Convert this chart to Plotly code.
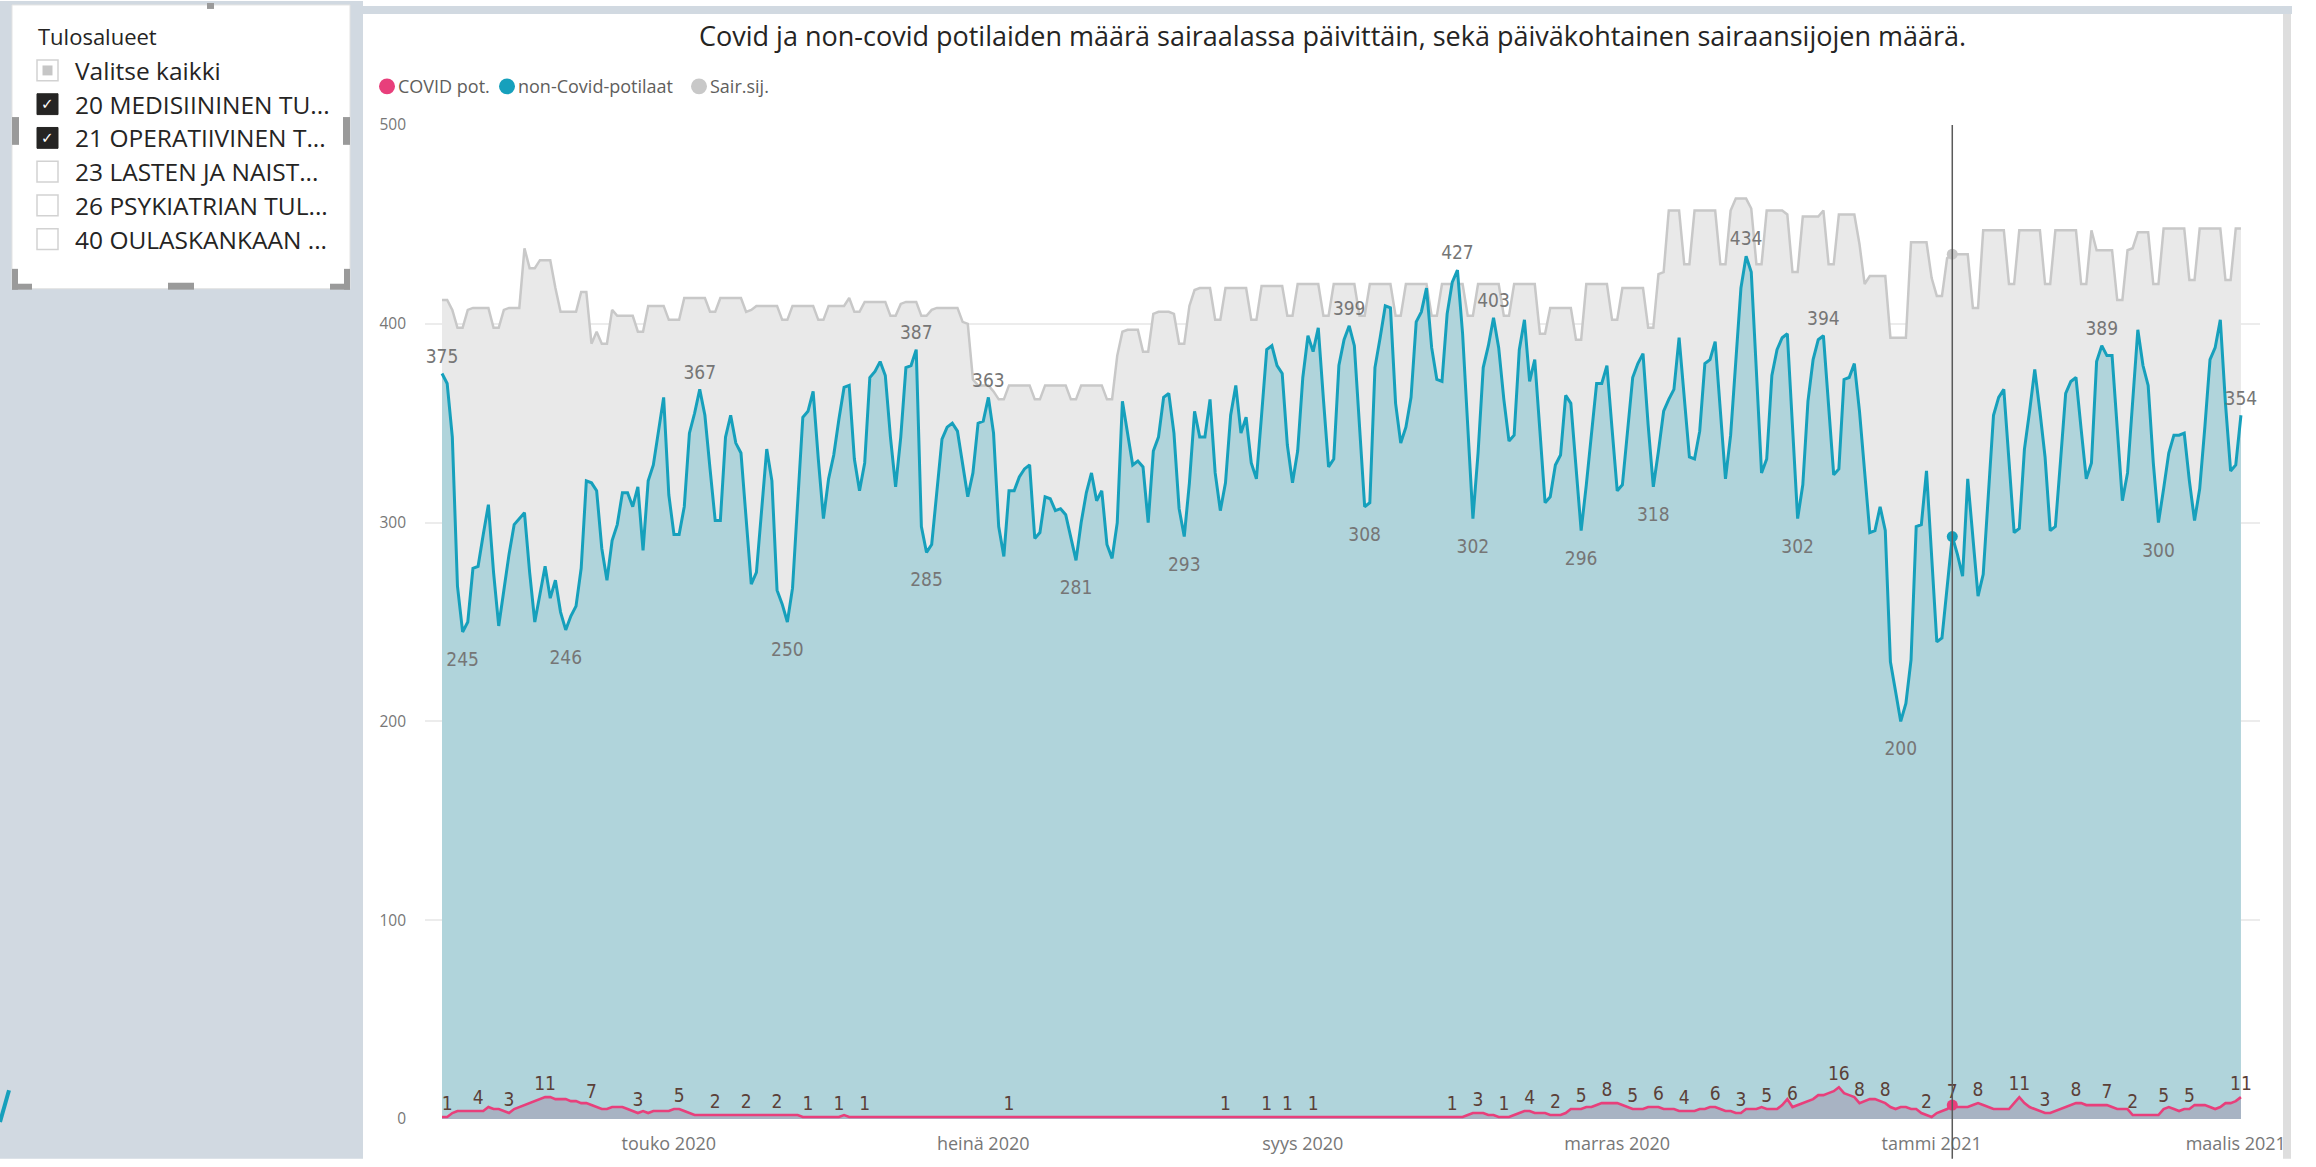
import pandas as pd
import plotly.graph_objects as go

# ---------------- data ----------------
START_DATE = "2020-03-18"

non_covid = [
    375, 370, 343, 268, 245, 250, 277, 278, 294, 309,
    275, 248, 266, 284, 299, 302, 305, 275, 250, 264,
    278, 262, 271, 255, 246, 253, 258, 277, 321, 320,
    316, 287, 271, 291, 299, 315, 315, 308, 318, 286,
    321, 329, 346, 363, 314, 294, 294, 308, 345, 355,
    367, 354, 327, 301, 301, 343, 354, 340, 335, 302,
    269, 275, 308, 337, 321, 266, 259, 250, 267, 312,
    353, 356, 366, 332, 302, 322, 334, 352, 368, 369,
    332, 316, 330, 373, 376, 381, 374, 343, 318, 343,
    378, 379, 387, 298, 285, 289, 316, 342, 348, 350,
    346, 330, 313, 325, 350, 351, 363, 345, 298, 283,
    316, 316, 323, 327, 329, 292, 295, 313, 312, 306,
    307, 304, 292, 281, 300, 315, 325, 311, 316, 289,
    282, 300, 361, 346, 329, 331, 328, 300, 336, 343,
    363, 365, 345, 307, 293, 320, 356, 343, 343, 362,
    325, 306, 320, 354, 369, 345, 353, 330, 322, 354,
    387, 389, 379, 375, 339, 320, 336, 373, 394, 386,
    398, 362, 328, 332, 379, 392, 399, 389, 347, 308,
    310, 378, 393, 409, 408, 360, 340, 348, 363, 401,
    406, 418, 388, 372, 371, 405, 421, 427, 395, 347,
    302, 335, 378, 389, 403, 388, 362, 341, 344, 387,
    402, 371, 382, 346, 310, 313, 329, 334, 364, 360,
    328, 296, 319, 344, 370, 370, 379, 347, 316, 319,
    346, 373, 380, 385, 349, 318, 336, 356, 362, 367,
    393, 362, 333, 332, 346, 380, 382, 391, 358, 322,
    344, 379, 418, 434, 426, 376, 325, 332, 374, 387,
    393, 395, 347, 302, 319, 361, 382, 392, 394, 360,
    324, 327, 372, 373, 380, 356, 325, 295, 296, 308,
    296, 230, 215, 200, 209, 231, 298, 299, 326, 284,
    240, 242, 268, 293, 284, 273, 322, 293, 263, 274,
    313, 354, 363, 367, 331, 295, 297, 337, 356, 377,
    356, 333, 296, 298, 331, 365, 371, 373, 347, 322,
    330, 381, 389, 384, 384, 345, 311, 325, 362, 397,
    379, 369, 330, 300, 317, 335, 344, 344, 345, 321,
    301, 317, 348, 382, 388, 402, 360, 326, 329, 354,
]

beds = [
    412, 412, 407, 398, 398, 407, 408, 408, 408, 408,
    398, 398, 407, 408, 408, 408, 438, 428, 428, 432,
    432, 432, 418, 406, 406, 406, 406, 416, 416, 390,
    396, 390, 390, 407, 404, 404, 404, 404, 396, 396,
    409, 409, 409, 409, 402, 402, 402, 413, 413, 413,
    413, 413, 406, 406, 413, 413, 413, 413, 413, 406,
    407, 409, 409, 409, 409, 409, 402, 402, 409, 409,
    409, 409, 409, 402, 402, 409, 409, 409, 409, 413,
    406, 406, 411, 411, 411, 411, 411, 404, 404, 410,
    411, 411, 411, 404, 404, 407, 408, 408, 408, 408,
    408, 401, 400, 372, 369, 369, 369, 366, 362, 362,
    369, 369, 369, 369, 369, 362, 362, 369, 369, 369,
    369, 369, 362, 362, 369, 369, 369, 369, 369, 362,
    362, 384, 396, 397, 397, 397, 386, 386, 405, 406,
    406, 406, 405, 390, 390, 409, 417, 418, 418, 418,
    402, 402, 418, 418, 418, 418, 418, 402, 402, 419,
    419, 419, 419, 419, 404, 404, 420, 420, 420, 420,
    420, 404, 404, 420, 420, 420, 420, 420, 404, 404,
    420, 420, 420, 420, 420, 404, 404, 420, 420, 420,
    420, 420, 404, 404, 420, 420, 420, 420, 420, 404,
    404, 420, 420, 420, 420, 420, 404, 404, 420, 420,
    420, 420, 420, 395, 395, 408, 408, 408, 408, 408,
    392, 392, 420, 420, 420, 420, 420, 402, 402, 418,
    418, 418, 418, 418, 398, 398, 425, 426, 457, 457,
    457, 430, 430, 457, 457, 457, 457, 457, 430, 430,
    457, 463, 463, 463, 458, 430, 430, 457, 457, 457,
    457, 455, 426, 426, 454, 454, 454, 454, 457, 430,
    430, 455, 455, 455, 455, 440, 420, 424, 424, 424,
    424, 393, 393, 393, 393, 441, 441, 441, 441, 423,
    414, 414, 433, 435, 435, 435, 435, 408, 408, 447,
    447, 447, 447, 447, 420, 420, 447, 447, 447, 447,
    447, 420, 420, 447, 447, 447, 447, 447, 420, 420,
    447, 437, 437, 437, 437, 412, 412, 437, 438, 446,
    446, 446, 420, 420, 448, 448, 448, 448, 448, 422,
    422, 448, 448, 448, 448, 448, 422, 422, 448, 448,
]

covid = (
    [1, 1, 3, 4, 4, 4, 4, 4, 4, 6,
     5, 5, 4, 3, 5, 6, 7, 8, 9, 10,
     11, 11, 10, 10, 10, 9, 9, 8, 8, 7,
     6, 5, 5, 6, 6, 6, 5, 4, 3, 4,
     3, 4, 4, 4, 4, 5, 5, 4, 3, 2,
     2, 2, 2, 2, 2, 2, 2, 2, 2, 2,
     2, 2, 2, 2, 2, 2, 2, 2, 2, 2,
     1, 1, 1, 1, 1, 1, 1, 1, 2, 1]
    + [1] * 116
    + [1, 1, 1, 2, 3, 3, 3, 2, 2, 1,
       1, 1, 2, 3, 4, 4, 3, 3, 3, 2,
       2, 2, 3, 5, 5, 5, 6, 6, 7, 8,
       8, 8, 8, 7, 6, 5, 5, 5, 6, 6,
       6, 5, 5, 5, 4, 4, 4, 4, 5, 5,
       6, 6, 5, 4, 4, 3, 3, 5, 5, 5,
       6, 5, 5, 5, 7, 10, 6, 7, 8, 9,
       10, 12, 12, 13, 14, 16, 13, 12, 11, 8,
       9, 10, 10, 9, 8, 6, 5, 6, 6, 5,
       5, 3, 2, 1, 3, 4, 5, 7, 6, 6,
       6, 7, 8, 7, 6, 5, 5, 5, 5, 8,
       11, 8, 6, 5, 4, 3, 3, 4, 5, 6,
       7, 8, 8, 7, 7, 7, 7, 7, 6, 5,
       5, 5, 2, 2, 2, 2, 2, 2, 5, 6,
       5, 4, 5, 5, 7, 7, 7, 6, 5, 6,
       8, 8, 9, 11]
)

# indices of days that carry a data label
noncovid_label_top = [0, 50, 92, 106, 176, 197, 204, 253, 268, 322, 349]
noncovid_label_bottom = [4, 24, 67, 94, 123, 144, 179, 200, 221, 235, 263, 283, 333]
covid_label_idx = [1, 7, 13, 20, 29, 38, 46, 53, 59, 65, 71, 77, 82, 110, 152, 160,
                   164, 169, 196, 201, 206, 211, 216, 221, 226, 231, 236, 241, 247,
                   252, 257, 262, 271, 275, 280, 288, 293, 298, 306, 311, 317, 323,
                   328, 334, 339, 349]
hover_idx = 293

series_names = ["COVID pot.", "non-Covid-potilaat", "Sair.sij."]
tick_dates = ["2020-05-01", "2020-07-01", "2020-09-01", "2020-11-01", "2021-01-01", "2021-03-01"]
tick_labels = ["touko 2020", "heinä 2020", "syys 2020", "marras 2020", "tammi 2021", "maalis 2021"]
y_ticks = [0, 100, 200, 300, 400, 500]

title_text = ("Covid ja non-covid potilaiden määrä sairaalassa päivittäin, "
              "sekä päiväkohtainen sairaansijojen määrä.")
slicer_title = "Tulosalueet"
slicer_items = ["Valitse kaikki", "20 MEDISIININEN TU...", "21 OPERATIIVINEN T...",
                "23 LASTEN JA NAIST...", "26 PSYKIATRIAN TUL...", "40 OULASKANKAAN ..."]
slicer_state = ["partial", "checked", "checked", "empty", "empty", "empty"]

# ---------------- styling / geometry ----------------
W, H = 2316, 1167
PL, PR, PT, PB = 425, 2260, 125, 1127

C_CYAN = "#16a0bc"
C_CYAN_FILL = "#b0d4db"
C_GREY = "#c8c8c8"
C_GREY_FILL = "#e9e9e9"
C_PINK = "#e83f7b"
C_PINK_FILL = "#a8b3c3"
C_PANEL = "#d1d9e1"
LABEL_FONT = "DejaVu Sans Condensed, Roboto Condensed, Roboto, sans-serif"
UI_FONT = "Open Sans, Noto Sans, sans-serif"


def px(x):
    return (x - PL) / (PR - PL)


def py(y):
    return (PB - y) / (PB - PT)


def prect(x0, x1, y0, y1, fill, line=None, layer="below"):
    return dict(type="rect", xref="paper", yref="paper", x0=px(x0), x1=px(x1),
                y0=py(y1), y1=py(y0), fillcolor=fill,
                line=line if line else dict(width=0), layer=layer)


dates = pd.date_range(START_DATE, periods=len(non_covid), freq="D")

fig = go.Figure()

fig.add_trace(go.Scatter(x=dates, y=beds, mode="lines", name=series_names[2],
                         line=dict(color=C_GREY, width=2.5), fill="tozeroy",
                         fillcolor=C_GREY_FILL, showlegend=False, hoverinfo="skip"))
fig.add_trace(go.Scatter(x=dates, y=non_covid, mode="lines", name=series_names[1],
                         line=dict(color=C_CYAN, width=3), fill="tozeroy",
                         fillcolor=C_CYAN_FILL, showlegend=False, hoverinfo="skip"))
fig.add_trace(go.Scatter(x=dates, y=covid, mode="lines", name=series_names[0],
                         line=dict(color=C_PINK, width=2.6), fill="tozeroy",
                         fillcolor=C_PINK_FILL, showlegend=False, hoverinfo="skip"))

# data labels
for idxs, pos, msize in ((noncovid_label_top, "top center", 8),
                         (noncovid_label_bottom, "bottom center", 30)):
    fig.add_trace(go.Scatter(
        x=[dates[i] for i in idxs], y=[non_covid[i] for i in idxs],
        text=[str(non_covid[i]) for i in idxs], textposition=pos,
        mode="markers+text", marker=dict(size=msize, color="rgba(0,0,0,0)"),
        textfont=dict(family=LABEL_FONT, size=19, color="#767676"),
        showlegend=False, hoverinfo="skip", cliponaxis=False))
fig.add_trace(go.Scatter(
    x=[dates[i] for i in covid_label_idx], y=[covid[i] for i in covid_label_idx],
    text=[str(covid[i]) for i in covid_label_idx], textposition="top center",
    mode="markers+text", marker=dict(size=2, color="rgba(0,0,0,0)"),
    textfont=dict(family=LABEL_FONT, size=19, color="#5b4038"),
    showlegend=False, hoverinfo="skip", cliponaxis=False))

# hover markers at the highlighted day
for vals, col in ((beds, C_GREY), (non_covid, C_CYAN), (covid, C_PINK)):
    fig.add_trace(go.Scatter(x=[dates[hover_idx]], y=[vals[hover_idx]], mode="markers",
                             marker=dict(size=11, color=col), showlegend=False,
                             hoverinfo="skip", cliponaxis=False))

shapes = []
annotations = []
# page panels
shapes.append(prect(0, 363, 0, H, C_PANEL))
shapes.append(prect(363, 2292, 5, 13, C_PANEL))
shapes.append(prect(2283, 2291, 13, H, "#dedede"))
# slicer card
shapes.append(prect(12, 350, 4, 290, "white", dict(color="#e3e3e3", width=1)))
# resize handles
for (x0, x1, y0, y1) in [(12, 19, 117, 145), (343, 350, 117, 145), (168, 194, 284, 291),
                         (207, 214, 2, 8), (12, 32, 285, 291), (12, 18, 270, 291),
                         (330, 350, 285, 291), (344, 350, 270, 291)]:
    shapes.append(prect(x0, x1, y0, y1, "#9a9a9a", layer="above"))
# small cropped logo stroke at bottom-left
shapes.append(dict(type="line", xref="paper", yref="paper", x0=px(0), x1=px(9),
                   y0=py(1130), y1=py(1098), line=dict(color=C_CYAN, width=4), layer="above"))

annotations.append(dict(text=slicer_title, xref="paper", yref="paper", x=px(36), y=py(35),
                        xanchor="left", yanchor="middle", showarrow=False,
                        font=dict(family=UI_FONT, size=22, color="#252423")))
row_y = [70, 104, 138, 172, 206, 240]
for name, state, yc in zip(slicer_items, slicer_state, row_y):
    bx0, bx1 = 37, 58
    if state == "checked":
        shapes.append(prect(bx0, bx1, yc - 10.5, yc + 10.5, "#252423",
                            dict(color="#252423", width=1), "above"))
        annotations.append(dict(text="✓", xref="paper", yref="paper", x=px((bx0 + bx1) / 2),
                                y=py(yc), xanchor="center", yanchor="middle", showarrow=False,
                                font=dict(family="DejaVu Sans", size=15, color="white")))
    else:
        shapes.append(prect(bx0, bx1, yc - 10.5, yc + 10.5, "white",
                            dict(color="#d2d2d2", width=1.5), "above"))
        if state == "partial":
            shapes.append(prect(bx0 + 5.5, bx1 - 5.5, yc - 5, yc + 5, "#c6c6c6", layer="above"))
    annotations.append(dict(text=name, xref="paper", yref="paper", x=px(73), y=py(yc),
                            xanchor="left", yanchor="middle", showarrow=False,
                            font=dict(family=UI_FONT, size=24.5, color="#252423")))

annotations.append(dict(text=title_text, xref="paper", yref="paper", x=px(1332), y=py(35),
                        xanchor="center", yanchor="middle", showarrow=False,
                        font=dict(family=UI_FONT, size=27, color="#252423")))

# legend (dots + names)
leg_cx = [387, 507, 699]
for name, col, cx in zip(series_names, (C_PINK, C_CYAN, C_GREY), leg_cx):
    shapes.append(dict(type="circle", xref="paper", yref="paper", x0=px(cx - 8), x1=px(cx + 8),
                       y0=py(86 + 8), y1=py(86 - 8), fillcolor=col, line=dict(width=0),
                       layer="above"))
    annotations.append(dict(text=name, xref="paper", yref="paper", x=px(cx + 9), y=py(86),
                            xanchor="left", yanchor="middle", showarrow=False,
                            font=dict(family=UI_FONT, size=18, color="#605e5c")))

# highlighted-day vertical line
shapes.append(dict(type="line", xref="x", yref="paper", x0=dates[hover_idx], x1=dates[hover_idx],
                   y0=py(H), y1=1.0, line=dict(color="#5a5a5a", width=1.5), layer="above"))

fig.update_layout(
    width=W, height=H,
    margin=dict(l=PL, r=W - PR, t=PT, b=H - PB, pad=0),
    paper_bgcolor="white", plot_bgcolor="rgba(0,0,0,0)",
    shapes=shapes, annotations=annotations,
    showlegend=False,
    xaxis=dict(range=[dates[0] - pd.Timedelta(days=3.3), dates[-1] + pd.Timedelta(days=3.7)],
               tickvals=tick_dates, ticktext=tick_labels, showgrid=False, zeroline=False,
               showline=False, ticks="", ticklabelstandoff=12,
               tickfont=dict(family=UI_FONT, size=18, color="#777777")),
    yaxis=dict(range=[0, 500], tickvals=y_ticks, showgrid=True, gridcolor="#ececec",
               gridwidth=1.5, zeroline=False, showline=False, ticks="",
               ticklabelstandoff=18,
               tickfont=dict(family=UI_FONT, size=15.5, color="#777777")),
)

fig.write_html(
    "out.html", config={"displayModeBar": False},
    post_script=("document.documentElement.style.overflow='hidden';"
                 "document.body.style.overflow='hidden';"
                 "document.body.style.margin='0px';"
                 "var gd = document.getElementById('{plot_id}');"
                 "gd.style.position='fixed'; gd.style.left='0px'; gd.style.top='0px';"),
)
